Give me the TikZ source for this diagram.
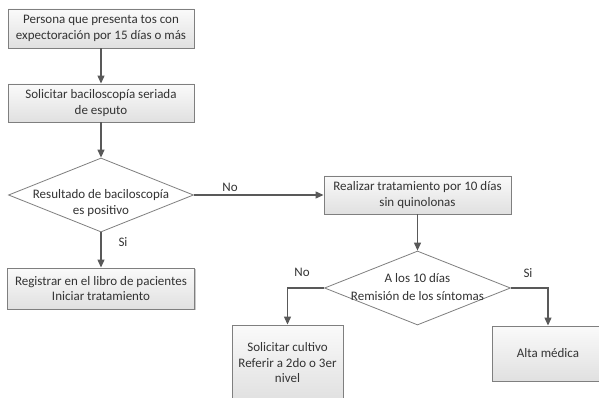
\documentclass[tikz,border=0pt]{standalone}
\usepackage{fontspec}
\setmainfont{Carlito}
\usetikzlibrary{shapes.geometric,arrows.meta,shadows}
\definecolor{linec}{HTML}{595959}
\definecolor{boxline}{HTML}{7F7F7F}
\definecolor{txt}{HTML}{333333}
\begin{document}
\begin{tikzpicture}[x=1pt,y=-1pt, font=\fontsize{13}{15.5}\selectfont, text=txt,
  procbox/.style={rectangle, draw=boxline, line width=0.9pt, top color=white!98!black, bottom color=white!88!black,
    align=center, inner sep=0pt,
    drop shadow={shadow xshift=1.2pt, shadow yshift=-1.2pt, opacity=0.35, fill=black!60}},
  decbox/.style={diamond, draw=boxline, line width=0.8pt, fill=white, inner sep=0pt,
    minimum width=185pt, minimum height=74pt},
  flow/.style={draw=linec, line width=1.2pt, -{Triangle[length=8pt,width=7pt]}},
  lbl/.style={inner sep=0pt, align=center}]
\useasboundingbox (0,0) rectangle (599,398);

\node[procbox, minimum width=186pt, minimum height=39pt] (b1) at (101,28.5) {Persona que presenta tos con\\expectoración por 15 días o más};
\node[procbox, minimum width=186pt, minimum height=38pt] (b2) at (101,103) {Solicitar baciloscopía seriada\\de esputo};
\node[decbox] (d1) at (101,195) {};
\node[lbl] (t1) at (101,203) {Resultado de baciloscopía\\es positivo};
\node[procbox, minimum width=187pt, minimum height=41pt] (b3) at (101,288.5) {Registrar en el libro de pacientes\\Iniciar tratamiento};
\node[procbox, minimum width=187pt, minimum height=38pt] (b4) at (417.5,195) {Realizar tratamiento por 10 días\\sin quinolonas};
\node[decbox, minimum width=186pt] (d2) at (417.5,288) {};
\node[lbl] (t2) at (417.5,287) {A los 10 días\\[2pt]Remisión de los síntomas};
\node[procbox, minimum width=111pt, minimum height=76pt] (b5) at (287.5,363) {Solicitar cultivo\\Referir a 2do o 3er\\nivel};
\node[procbox, minimum width=112pt, minimum height=55pt] (b6) at (548,353.5) {Alta médica};

\draw[flow] (b1) -- (b2);
\draw[flow] (b2) -- (d1);
\draw[flow] (d1) -- (b3);
\draw[flow] (d1) -- (b4);
\draw[flow] (b4) -- (d2);
\draw[flow] (d2.west) -| (b5.north);
\draw[flow] (d2.east) -| (b6.north);

\node[lbl] (no1) at (230,187) {No};
\node[lbl] (si1) at (123,242) {Si};
\node[lbl] (no2) at (302,272) {No};
\node[lbl] (si2) at (528,273) {Si};
\end{tikzpicture}
\end{document}
